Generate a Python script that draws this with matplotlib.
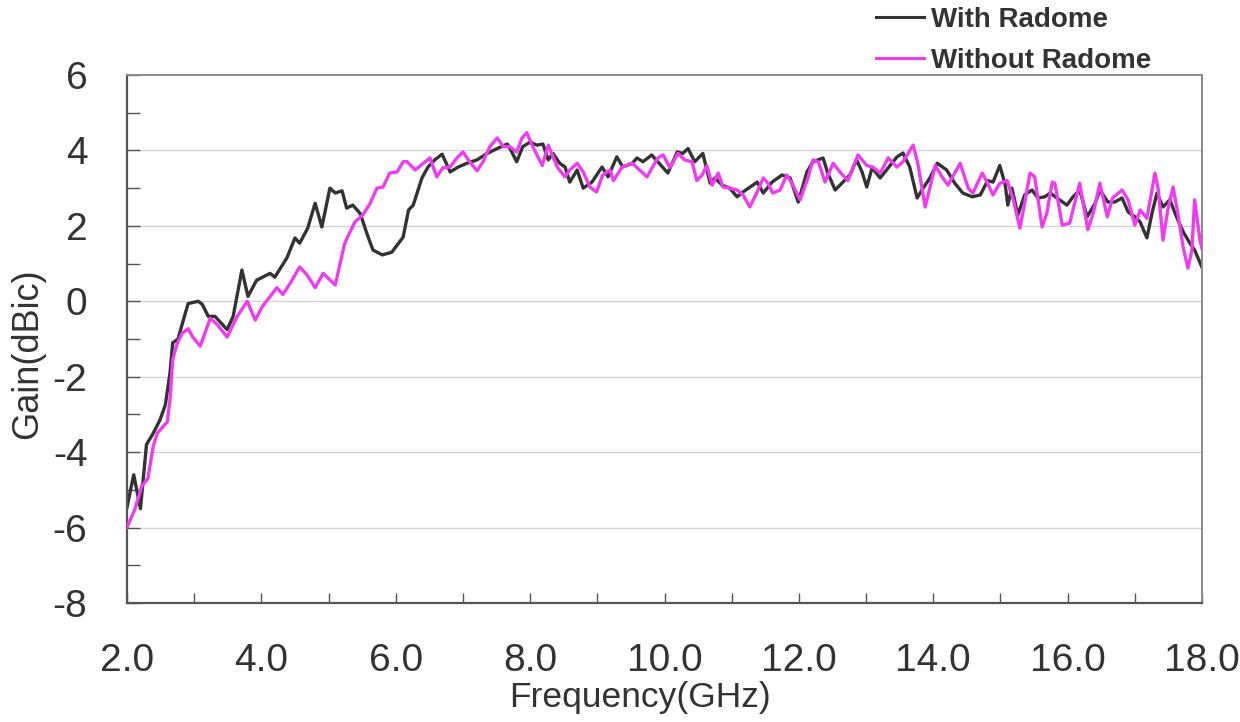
import matplotlib
matplotlib.use("Agg")
import matplotlib.pyplot as plt
from matplotlib.lines import Line2D

plt.rcParams['font.family'] = ['Liberation Sans', 'DejaVu Sans']
plt.rcParams['axes.unicode_minus'] = False

# ---- data ----
freq_with = [2.00, 2.10, 2.20, 2.29, 2.39, 2.49, 2.57, 2.64, 2.68, 2.76, 2.83, 2.91, 3.06, 3.12, 3.21, 3.31,
             3.49, 3.58, 3.71, 3.80, 3.93, 4.13, 4.20, 4.38, 4.50, 4.57, 4.69, 4.80, 4.90, 5.02, 5.10, 5.20,
             5.27, 5.36, 5.47, 5.57, 5.66, 5.80, 5.94, 6.11, 6.19, 6.26, 6.39, 6.48, 6.58, 6.69, 6.81, 6.93,
             7.06, 7.21, 7.36, 7.51, 7.66, 7.73, 7.80, 7.89, 8.00, 8.10, 8.19, 8.27, 8.34, 8.44, 8.52, 8.59,
             8.70, 8.79, 8.92, 9.07, 9.16, 9.29, 9.38, 9.52, 9.59, 9.68, 9.81, 9.90, 9.98, 10.05, 10.19, 10.27,
             10.35, 10.45, 10.57, 10.68, 10.75, 10.86, 10.97, 11.08, 11.17, 11.38, 11.47, 11.60, 11.75, 11.87,
             11.99, 12.12, 12.21, 12.36, 12.43, 12.54, 12.64, 12.76, 12.86, 12.94, 13.01, 13.09, 13.21, 13.33,
             13.46, 13.55, 13.65, 13.76, 13.85, 13.95, 14.06, 14.20, 14.32, 14.44, 14.58, 14.70, 14.81, 14.89,
             14.99, 15.07, 15.11, 15.17, 15.26, 15.36, 15.47, 15.56, 15.66, 15.74, 15.84, 15.99, 16.08, 16.18,
             16.29, 16.41, 16.48, 16.60, 16.70, 16.81, 16.90, 17.00, 17.08, 17.18, 17.26, 17.33, 17.42, 17.52,
             17.63, 17.72, 17.82, 17.89, 18.00]
gain_with = [-5.46, -4.60, -5.50, -3.80, -3.50, -3.15, -2.75, -1.90, -1.10, -1.00, -0.55, -0.06, 0.00, -0.08, -0.40, -0.40,
             -0.75, -0.40, 0.83, 0.13, 0.56, 0.74, 0.64, 1.15, 1.68, 1.54, 1.94, 2.60, 1.97, 3.00, 2.87, 2.93,
             2.47, 2.55, 2.33, 1.80, 1.36, 1.23, 1.30, 1.70, 2.42, 2.55, 3.27, 3.56, 3.75, 3.90, 3.43, 3.56,
             3.66, 3.75, 3.92, 4.05, 4.17, 3.95, 3.70, 4.10, 4.22, 4.14, 4.17, 3.75, 3.92, 3.66, 3.56, 3.16,
             3.48, 3.00, 3.16, 3.56, 3.30, 3.83, 3.56, 3.66, 3.80, 3.70, 3.88, 3.70, 3.54, 3.40, 3.96, 3.92,
             4.05, 3.70, 3.92, 3.13, 3.27, 3.08, 3.00, 2.77, 2.90, 3.16, 2.87, 3.16, 3.35, 3.27,
             2.63, 3.43, 3.70, 3.80, 3.40, 2.95, 3.13, 3.35, 3.75, 3.43, 3.03, 3.54, 3.27, 3.54,
             3.83, 3.93, 3.56, 2.74, 3.00, 3.27, 3.66, 3.48, 3.13, 2.87, 2.77, 2.82, 3.20, 3.16,
             3.60, 3.10, 2.55, 3.00, 2.29, 2.82, 2.95, 2.74, 2.77, 2.87, 2.74, 2.55, 2.77, 2.95,
             2.24, 2.60, 2.95, 2.63, 2.63, 2.74, 2.37, 2.24, 2.10, 1.68, 2.37, 2.87, 2.50, 2.69,
             2.20, 1.84, 1.54, 1.36, 0.90]

freq_without = [2.00, 2.12, 2.22, 2.31, 2.39, 2.45, 2.60, 2.64, 2.68, 2.74, 2.82, 2.91, 2.98, 3.09, 3.24, 3.35,
                3.49, 3.64, 3.79, 3.91, 4.01, 4.13, 4.23, 4.32, 4.43, 4.57, 4.68, 4.80, 4.92, 5.10, 5.24, 5.39,
                5.51, 5.62, 5.72, 5.81, 5.91, 6.02, 6.11, 6.17, 6.29, 6.41, 6.51, 6.61, 6.70, 6.81, 6.91, 7.00,
                7.10, 7.21, 7.30, 7.40, 7.51, 7.60, 7.70, 7.80, 7.88, 7.95, 8.04, 8.18, 8.27, 8.34, 8.41, 8.52,
                8.59, 8.70, 8.79, 8.89, 8.99, 9.08, 9.19, 9.24, 9.37, 9.52, 9.74, 9.90, 9.98, 10.08, 10.20, 10.30,
                10.41, 10.48, 10.56, 10.63, 10.71, 10.80, 10.87, 10.97, 11.08, 11.17, 11.27, 11.38, 11.47, 11.54,
                11.61, 11.72, 11.82, 11.91, 12.02, 12.14, 12.21, 12.29, 12.39, 12.51, 12.61, 12.73, 12.88, 13.01,
                13.10, 13.21, 13.33, 13.46, 13.55, 13.70, 13.77, 13.88, 14.03, 14.13, 14.22, 14.40, 14.52, 14.59,
                14.73, 14.80, 14.89, 14.99, 15.10, 15.19, 15.29, 15.36, 15.44, 15.51, 15.62, 15.69, 15.77, 15.81,
                15.92, 16.03, 16.18, 16.30, 16.38, 16.48, 16.59, 16.67, 16.81, 16.90, 17.00, 17.08, 17.18, 17.30,
                17.35, 17.42, 17.49, 17.57, 17.64, 17.72, 17.79, 17.85, 17.89, 17.97, 18.00]
gain_without = [-6.00, -5.50, -4.90, -4.70, -3.85, -3.50, -3.20, -2.60, -1.55, -1.15, -0.85, -0.73, -0.95, -1.19, -0.45, -0.63,
                -0.95, -0.40, 0.00, -0.50, -0.15, 0.13, 0.36, 0.18, 0.48, 0.91, 0.70, 0.36, 0.74, 0.43, 1.54, 2.10,
                2.29, 2.60, 3.00, 3.03, 3.40, 3.43, 3.70, 3.70, 3.48, 3.66, 3.80, 3.30, 3.54, 3.56, 3.80, 3.96,
                3.70, 3.46, 3.70, 4.10, 4.33, 4.10, 4.10, 3.96, 4.33, 4.47, 4.10, 3.60, 4.14, 3.83, 3.54, 3.30,
                3.48, 3.66, 3.43, 3.03, 2.90, 3.35, 3.48, 3.20, 3.56, 3.66, 3.30, 3.80, 3.88, 3.54, 3.92, 3.75,
                3.70, 3.20, 3.35, 3.60, 3.08, 3.40, 3.03, 3.00, 2.95, 2.82, 2.50, 2.90, 3.27, 3.13,
                2.87, 2.95, 3.35, 3.08, 2.69, 3.30, 3.75, 3.70, 3.16, 3.66, 3.43, 3.20, 3.88, 3.60,
                3.56, 3.40, 3.80, 3.56, 3.70, 4.14, 3.66, 2.50, 3.60, 3.30, 3.08, 3.66, 3.00, 2.87,
                3.40, 3.16, 2.82, 3.13, 3.20, 2.70, 1.94, 2.60, 3.40, 3.30, 1.97, 2.33, 3.16, 3.13,
                2.02, 2.07, 3.13, 1.90, 2.33, 3.13, 2.24, 2.74, 2.95, 2.69, 2.02, 2.42, 2.20, 3.40,
                2.95, 1.62, 2.42, 3.03, 2.33, 1.43, 0.88, 1.36, 2.69, 1.62, 1.40]

series_labels = ["With Radome", "Without Radome"]
x_ticks = [2, 4, 6, 8, 10, 12, 14, 16, 18]
x_ticklabels = ["2.0", "4.0", "6.0", "8.0", "10.0", "12.0", "14.0", "16.0", "18.0"]
y_ticks = [-8, -6, -4, -2, 0, 2, 4, 6]

# ---- figure ----
W, H = 1240, 722
fig = plt.figure(figsize=(W / 100, H / 100), dpi=100)
ax = fig.add_axes([127 / W, 1 - 603 / H, (1202 - 127) / W, (603 - 75) / H])
ax.patch.set_alpha(0)

c_with = '#333333'
c_without = '#f03cf0'
ax.plot(freq_without, gain_without, color=c_without, lw=2.4, solid_joinstyle='round', zorder=3)
ax.plot(freq_with, gain_with, color=c_with, lw=2.4, solid_joinstyle='round', zorder=2)

ax.set_xlim(2, 18)
ax.set_ylim(-8, 6)
ax.set_xticks(x_ticks)
ax.set_xticklabels(x_ticklabels)
ax.set_xticks(range(3, 18, 2), minor=True)
ax.set_yticks(y_ticks)
ax.set_yticklabels([str(v) for v in y_ticks])
ax.set_yticks(range(-7, 6, 2), minor=True)

for v in y_ticks[1:-1]:
    ax.axhline(v, color='#d4d4d4', lw=1.0, zorder=1)

ax.tick_params(axis='both', which='both', direction='in', color='#555555', width=1.0)
ax.tick_params(axis='y', which='both', length=9, pad=28.5, labelsize=28, labelcolor='#333333')
ax.tick_params(axis='x', which='both', length=7, pad=29, labelsize=28, labelcolor='#333333')

for side in ['left', 'bottom']:
    ax.spines[side].set_color('#555555')
    ax.spines[side].set_linewidth(1.6)
for side in ['top', 'right']:
    ax.spines[side].set_color('#8a8a8a')
    ax.spines[side].set_linewidth(1.4)

ax.set_xlabel("Frequency(GHz)", fontsize=25.5, color='#333333')
ax.xaxis.label.set_verticalalignment('center')
ax.xaxis.set_label_coords((640 - 127) / 1075, (603 - 697) / 528)
ax.set_ylabel("Gain(dBic)", fontsize=26, color='#333333')
ax.yaxis.label.set_verticalalignment('center')
ax.yaxis.set_label_coords((28 - 127) / 1075, (603 - 354) / 528)

handles = [Line2D([], [], color=c_with, lw=2.2), Line2D([], [], color=c_without, lw=2.2)]
leg = fig.legend(handles, series_labels, loc='upper left',
                 bbox_to_anchor=(876 / W, 1 - 7 / H), frameon=False,
                 prop={'weight': 'bold', 'size': 20}, handlelength=1.72,
                 handletextpad=0.26, labelspacing=0.53, borderpad=0, borderaxespad=0)
for t in leg.get_texts():
    t.set_color('#333333')

fig.savefig("out.png", dpi=100)
